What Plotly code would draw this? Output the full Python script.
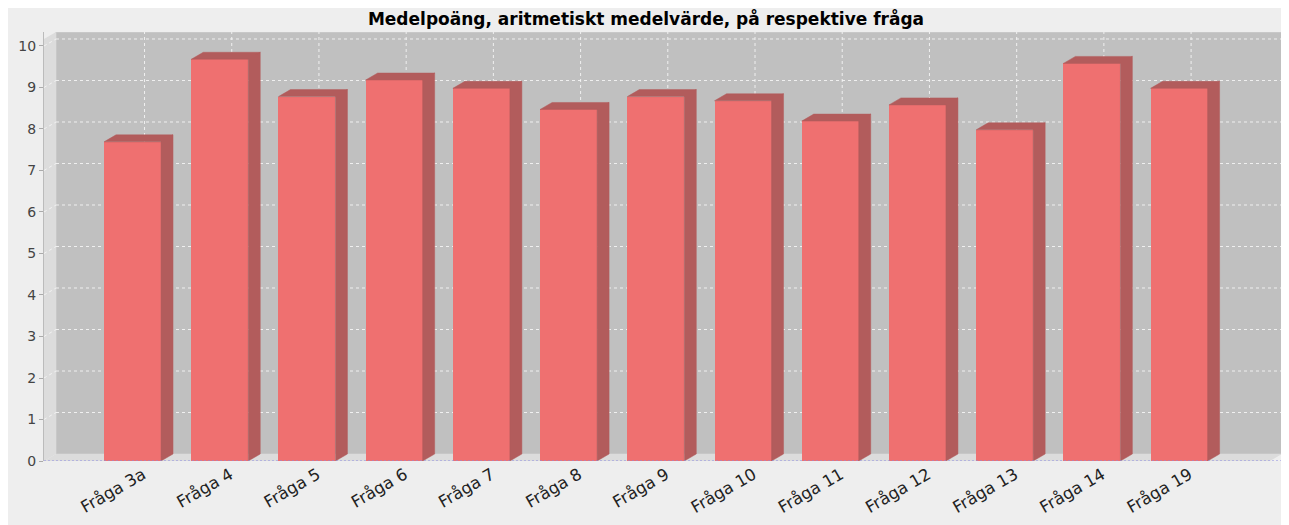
import plotly.graph_objects as go

# ---- data ----
categories = ["Fråga 3a", "Fråga 4", "Fråga 5", "Fråga 6", "Fråga 7", "Fråga 8",
              "Fråga 9", "Fråga 10", "Fråga 11", "Fråga 12", "Fråga 13", "Fråga 14", "Fråga 19"]
values = [7.69, 9.68, 8.78, 9.18, 8.98, 8.47, 8.78, 8.68, 8.19, 8.58, 7.98, 9.58, 8.98]
y_ticks = list(range(0, 11))
title_text = "Medelpoäng, aritmetiskt medelvärde, på respektive fråga"

# ---- geometry (page has an 8px body margin) ----
W, H = 1281, 517
ML, MR, MT, MB = 36, 7, 24, 64
PW = W - ML - MR
PH = H - MT - MB
XMIN, XMAX = -1.015, 13.18
YMAX = 10.337
px_x = PW / (XMAX - XMIN)
px_y = PH / YMAX
DX = 12 / px_x
DY = 7 / px_y
BAR_W = 57 / px_x
HW = BAR_W / 2

FRONT = "#EF7070"
DARK = "#B25C5C"
WALL = "#C0C0C0"
SIDEWALL = "#DCDCDC"
GRID = "rgba(245,245,245,0.9)"

pos = list(range(len(categories)))

fig = go.Figure()

# front faces
fig.add_trace(go.Bar(x=pos, y=values, width=BAR_W, marker=dict(color=FRONT, line=dict(width=0)),
                     hoverinfo="x+y", showlegend=False))

# side + top faces
sx, sy = [], []
for i, v in zip(pos, values):
    sx += [i + HW, i + HW, i + HW + DX, i + HW + DX, i + HW, None]
    sy += [0, v, v + DY, DY, 0, None]
    sx += [i - HW, i - HW + DX, i + HW + DX, i + HW, i - HW, None]
    sy += [v, v + DY, v + DY, v, v, None]
fig.add_trace(go.Scatter(x=sx, y=sy, mode="lines", fill="toself", fillcolor=DARK,
                         line=dict(width=0.5, color=DARK), hoverinfo="skip", showlegend=False))

shapes = []
# back wall
shapes.append(dict(type="rect", xref="x", yref="y", layer="below",
                   x0=XMIN + DX, x1=XMAX, y0=DY, y1=YMAX,
                   fillcolor=WALL, line=dict(width=1, color="#CFCFCF")))
# left wall
shapes.append(dict(type="path", xref="x", yref="y", layer="below",
                   path=f"M{XMIN},0 L{XMIN},{YMAX - DY} L{XMIN + DX},{YMAX} L{XMIN + DX},{DY} Z",
                   fillcolor=SIDEWALL, line=dict(width=0)))
# floor
shapes.append(dict(type="path", xref="x", yref="y", layer="below",
                   path=f"M{XMIN},0 L{XMAX - DX},0 L{XMAX},{DY} L{XMIN + DX},{DY} Z",
                   fillcolor=SIDEWALL, line=dict(width=0)))
# horizontal gridlines (back wall + left wall)
for t in y_ticks[1:]:
    shapes.append(dict(type="line", xref="x", yref="y", layer="below",
                       x0=XMIN + DX, x1=XMAX, y0=t + DY, y1=t + DY,
                       line=dict(color=GRID, width=1, dash="3px,3px")))
    shapes.append(dict(type="line", xref="x", yref="y", layer="below",
                       x0=XMIN, x1=XMIN + DX, y0=t, y1=t + DY,
                       line=dict(color=GRID, width=1, dash="3px,3px")))
# vertical gridlines
for i in pos:
    shapes.append(dict(type="line", xref="x", yref="y", layer="below",
                       x0=i + DX, x1=i + DX, y0=DY, y1=YMAX,
                       line=dict(color=GRID, width=1, dash="3px,3px")))
# zero baseline (dotted blue)
shapes.append(dict(type="line", xref="x", yref="y", layer="above",
                   x0=XMIN, x1=XMAX, y0=0, y1=0,
                   line=dict(color="#8A8AE0", width=1, dash="2px,2px")))

fig.update_layout(
    width=W, height=H,
    margin=dict(l=ML, r=MR, t=MT, b=MB, pad=0),
    paper_bgcolor="#EEEEEE",
    plot_bgcolor="rgba(0,0,0,0)",
    font=dict(family="DejaVu Sans", size=13, color="#444444"),
    title=dict(text=f"<b>{title_text}</b>", x=638 / W, xanchor="center", y=1 - 11 / H, yanchor="middle",
               font=dict(family="DejaVu Sans", size=17, color="black")),
    shapes=shapes,
    bargap=0,
    xaxis=dict(range=[XMIN, XMAX], tickmode="array", tickvals=[p + 0.12 for p in pos], ticktext=categories,
               tickangle=-30, showgrid=False, zeroline=False, showline=False, ticks="",
               tickfont=dict(family="DejaVu Sans", size=16.5, color="#222222"), fixedrange=True),
    yaxis=dict(range=[0, YMAX], tickmode="array", tickvals=y_ticks, ticktext=[str(t) for t in y_ticks],
               showgrid=False, zeroline=False, showline=True, linecolor="#BBBBBB", linewidth=1,
               ticks="outside", ticklen=4, tickcolor="#AAAAAA",
               tickfont=dict(family="DejaVu Sans", size=14, color="#444444"), fixedrange=True),
)

fig.write_html("out.html")
